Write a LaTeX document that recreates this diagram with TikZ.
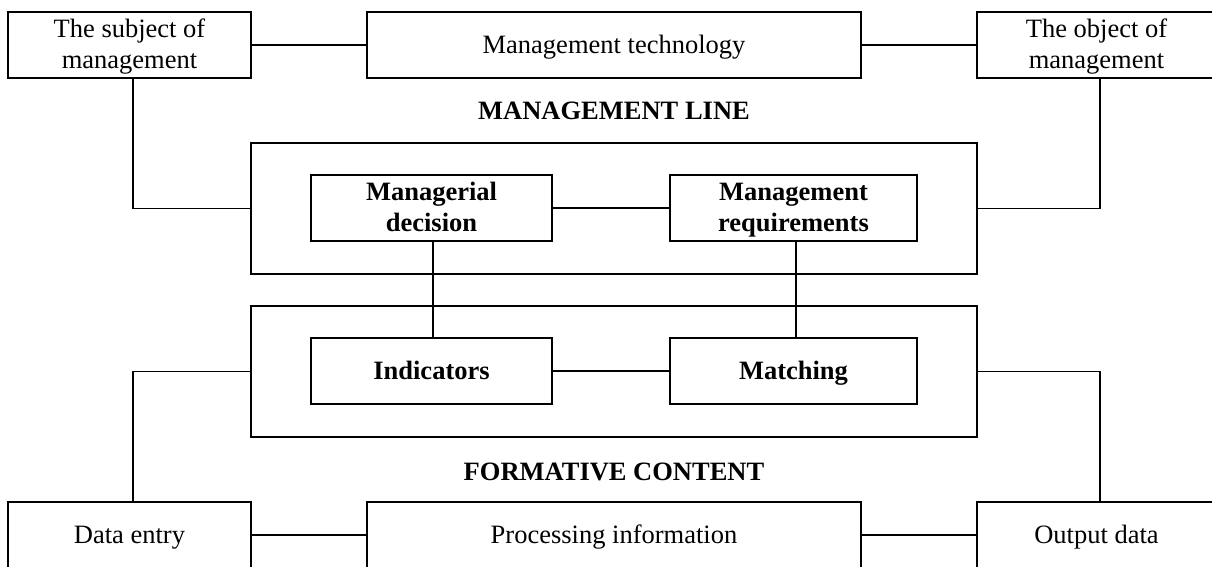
\documentclass[tikz,border=0pt]{standalone}
\usepackage{fontspec}
\setmainfont{Liberation Serif}
\newcommand\mystrut{\rule[-7.15pt]{0pt}{30.5pt}}
\begin{document}
\begin{tikzpicture}[x=1pt,y=-1pt,
  box/.style={draw, line width=1.8pt, inner sep=0pt, outer sep=0pt, align=center,
    font=\fontsize{26.5}{30.5}\selectfont},
  bbox/.style={box, font=\fontsize{26.5}{30.5}\selectfont\bfseries},
  head/.style={font=\fontsize{26.5}{30.5}\selectfont\bfseries, inner sep=0pt},
  link/.style={line width=1.8pt}]
\useasboundingbox (0,0) rectangle (1212,566);
% top row
\node[box, minimum width=243pt, minimum height=66pt] (subj) at (129.5,45) {\mystrut The subject of\\\mystrut management};
\node[box, minimum width=494pt, minimum height=66pt] (tech) at (614,45) {\mystrut Management technology};
\node[box, minimum width=239pt, minimum height=66pt] (obj) at (1096.5,45) {\mystrut The object of\\\mystrut management};
% heading 1
\node[head] (hline) at (614,110.5) {MANAGEMENT LINE};
% outer box 1
\node[box, minimum width=726pt, minimum height=131pt] (outer1) at (614,208.5) {};
\node[bbox, minimum width=241pt, minimum height=66pt] (md) at (431.5,208) {\mystrut Managerial\\\mystrut decision};
\node[bbox, minimum width=247pt, minimum height=66pt] (mr) at (793.5,208) {\mystrut Management\\\mystrut requirements};
% outer box 2
\node[box, minimum width=726pt, minimum height=131pt] (outer2) at (614,371.5) {};
\node[bbox, minimum width=241pt, minimum height=66pt] (ind) at (431.5,371) {\mystrut Indicators};
\node[bbox, minimum width=247pt, minimum height=66pt] (mat) at (793.5,371) {\mystrut Matching};
% heading 2
\node[head] (hform) at (614,472) {FORMATIVE CONTENT};
% bottom row
\node[box, minimum width=243pt, minimum height=66pt] (de) at (129.5,535) {\mystrut Data entry};
\node[box, minimum width=494pt, minimum height=66pt] (proc) at (614,535) {\mystrut Processing information};
\node[box, minimum width=239pt, minimum height=66pt] (out) at (1096.5,535) {\mystrut Output data};
% connectors
\draw[link] (subj) -- (tech);
\draw[link] (tech) -- (obj);
\draw[link] ([xshift=3.5pt]subj.south) |- (outer1.west);
\draw[link] ([xshift=3.5pt]obj.south) |- (outer1.east);
\draw[link] (md) -- (mr);
\draw[link] (ind) -- (mat);
\draw[link] ([xshift=1.5pt]md.south) -- ([xshift=1.5pt]ind.north);
\draw[link] ([xshift=2.5pt]mr.south) -- ([xshift=2.5pt]mat.north);
\draw[link] (outer2.west) -| ([xshift=3.5pt]de.north);
\draw[link] (outer2.east) -| ([xshift=3.5pt]out.north);
\draw[link] (de) -- (proc);
\draw[link] (proc) -- (out);
\end{tikzpicture}
\end{document}
